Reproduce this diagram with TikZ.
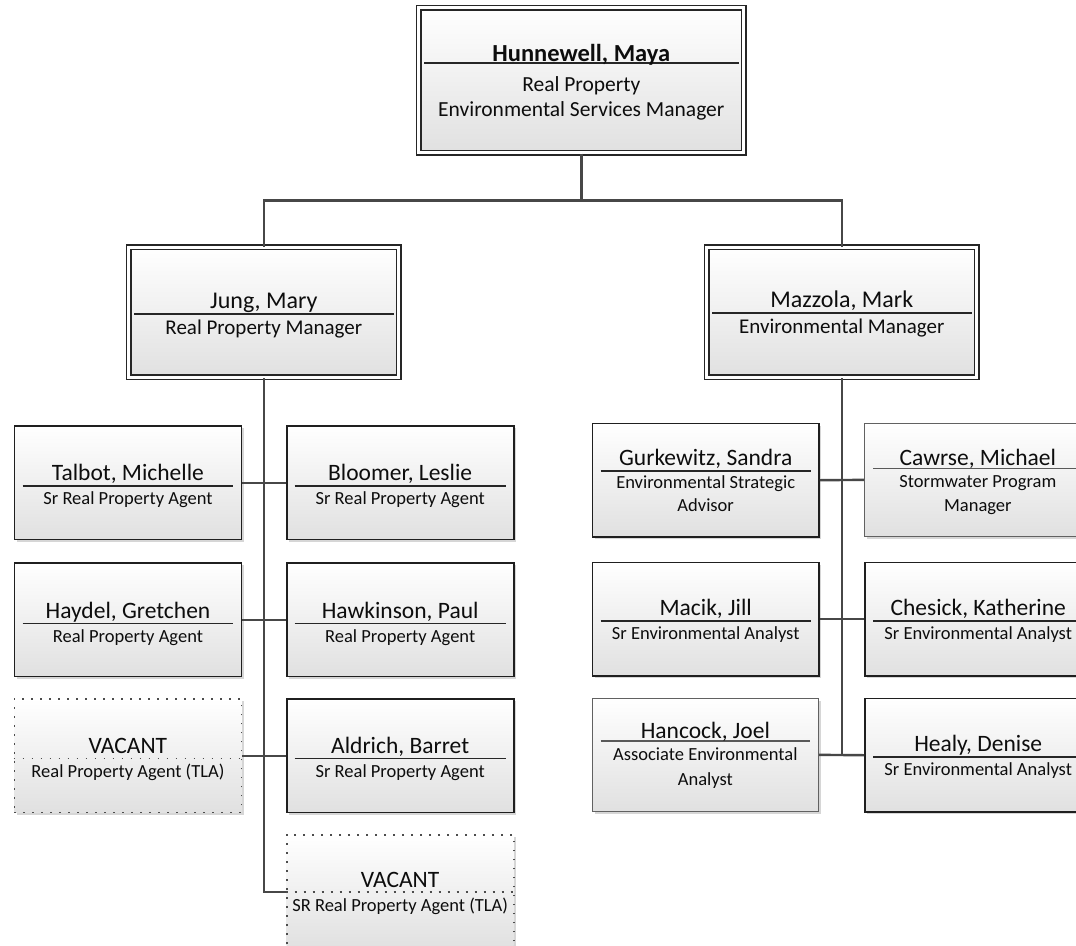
\documentclass[tikz,border=0pt]{standalone}
\usepackage{fontspec}
\setmainfont{Carlito}
\usetikzlibrary{shadows}

\tikzset{
  conn/.style={draw=black!72, line width=2.4pt},
  basebox/.style={rectangle, inner sep=0pt, top color=white, bottom color=black!12,
    drop shadow={shadow xshift=2.5pt, shadow yshift=-2.5pt, opacity=0.16, fill=black}},
  % double-bordered boxes
  dbox/.style={basebox, draw=black!85, line width=1.6pt, double=white, double distance=2.8pt},
  mbox/.style={dbox},
  % single boxes
  sbox/.style={basebox, draw=black!88, line width=1.9pt},
  lbox/.style={basebox, draw=black!62, line width=1.2pt},
  vbox/.style={basebox, draw=black!70, line width=1.9pt, dash pattern=on 1.9pt off 7.1pt},
  % dividers
  ddiv/.style={draw=black!85, line width=1.4pt, shorten <=6pt, shorten >=6pt},
  mdiv/.style={ddiv},
  sdiv/.style={draw=black!85, line width=1.5pt, shorten <=9pt, shorten >=9pt},
  ldiv/.style={draw=black!65, line width=1.2pt, shorten <=9pt, shorten >=9pt},
  vdiv/.style={draw=black!70, line width=1.9pt, dash pattern=on 1.9pt off 7.1pt},
  % texts
  txt/.style={inner sep=0pt, text=black!95, align=center},
  subtxt/.style={txt, execute at begin node={\rule{0pt}{14pt}}},
  dname/.style={txt, font=\fontsize{24.5}{28}\selectfont\bfseries, yshift=1.5pt},
  dsub/.style={subtxt, font=\fontsize{21.5}{24.3}\selectfont, yshift=-13.7pt},
  mname/.style={txt, font=\fontsize{24}{28}\selectfont, yshift=5.5pt},
  msub/.style={subtxt, font=\fontsize{21}{23}\selectfont, yshift=-5.5pt},
  sname/.style={txt, font=\fontsize{23.5}{27}\selectfont, yshift=5.5pt},
  ssub/.style={subtxt, font=\fontsize{18.5}{22.7}\selectfont, yshift=-4.5pt},
  lname/.style={txt, font=\fontsize{23.5}{27}\selectfont, yshift=3pt},
  lsub/.style={subtxt, font=\fontsize{18.5}{24.5}\selectfont, yshift=-6.5pt},
  vname/.style={txt, font=\fontsize{23.5}{27}\selectfont, yshift=5pt},
  vsub/.style={subtxt, font=\fontsize{18.5}{22.7}\selectfont, yshift=-5pt},
}

% #1 kind, #2 id, #3 x, #4 y(top, downward), #5 w, #6 h, #7 name, #8 title, #9 divider offset
\newcommand\pers[9]{%
  \node[#1box, minimum width=#5pt, minimum height=#6pt, anchor=north west] (#2) at (#3,#4) {};
  \draw[#1div] ([yshift=-#9pt]#2.north west) -- ([yshift=-#9pt]#2.north east);
  \node[#1name, anchor=base] (#2-name) at ([yshift=-#9pt]#2.north) {#7};
  \node[#1sub, anchor=north] (#2-title) at ([yshift=-#9pt]#2.north) {#8};
}

\begin{document}
\begin{tikzpicture}[x=1pt, y=-1pt]
\clip (0,0) rectangle (1076,945);
\fill[white] (0,0) rectangle (1076,945);

% top
\pers{d}{top}{418}{7}{325}{145}{Hunnewell, Maya}{Real Property\\Environmental Services Manager}{56}
% managers
\pers{m}{jung}{128}{246.5}{270}{130}{Jung, Mary}{Real Property Manager}{67.5}
\pers{m}{mazzola}{706}{246.5}{270}{130}{Mazzola, Mark}{Environmental Manager}{66.5}

% left group
\pers{s}{talbot}{13.5}{425}{227}{113.5}{Talbot, Michelle}{Sr Real Property Agent}{61}
\pers{s}{bloomer}{285.7}{425}{227}{113.5}{Bloomer, Leslie}{Sr Real Property Agent}{61}
\pers{s}{haydel}{13.5}{562}{227}{113.5}{Haydel, Gretchen}{Real Property Agent}{61.5}
\pers{s}{hawkinson}{285.7}{562}{227}{113.5}{Hawkinson, Paul}{Real Property Agent}{61.5}
\pers{v}{vacone}{13.5}{698}{227}{113.5}{VACANT}{Real Property Agent (TLA)}{60.5}
\pers{s}{aldrich}{285.7}{698}{227}{113.5}{Aldrich, Barret}{Sr Real Property Agent}{60.5}
\pers{v}{vactwo}{285.7}{834}{227}{113.5}{VACANT}{SR Real Property Agent (TLA)}{58}

% right group
\pers{s}{gurkewitz}{591.5}{422.5}{226.5}{113.5}{Gurkewitz, Sandra}{Environmental Strategic\\Advisor}{48.5}
\pers{l}{cawrse}{864}{422.5}{226.5}{113.5}{Cawrse, Michael}{Stormwater Program\\Manager}{46}
\pers{s}{macik}{591.5}{561.5}{226.5}{113.5}{Macik, Jill}{Sr Environmental Analyst}{59.5}
\pers{s}{chesick}{864}{561.5}{226.5}{113.5}{Chesick, Katherine}{Sr Environmental Analyst}{59.5}
\pers{l}{hancock}{591.5}{697.5}{226.5}{113.5}{Hancock, Joel}{Associate Environmental\\Analyst}{43.5}
\pers{s}{healy}{864}{697.5}{226.5}{113.5}{Healy, Denise}{Sr Environmental Analyst}{59.7}

% connectors
\draw[conn] (top.south) -- ++(0,47) coordinate (bus);
\draw[conn] (jung.north) |- (bus) -| (mazzola.north);
\draw[conn] (jung.south) |- (vactwo.west);
\draw[conn] (talbot.east) -- (bloomer.west);
\draw[conn] (haydel.east) -- (hawkinson.west);
\draw[conn] (vacone.east) -- (aldrich.west);
\draw[conn] (mazzola.south) -- (mazzola.south |- hancock.east);
\draw[conn] (gurkewitz.east) -- (cawrse.west);
\draw[conn] (macik.east) -- (chesick.west);
\draw[conn] (hancock.east) -- (healy.west);
\end{tikzpicture}
\end{document}
